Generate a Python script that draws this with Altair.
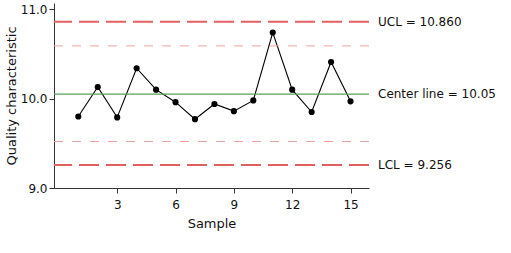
import altair as alt
import pandas as pd

samples = list(range(1, 16))
values = [9.80, 10.13, 9.79, 10.34, 10.10, 9.96, 9.77, 9.94, 9.86, 9.98,
          10.74, 10.10, 9.85, 10.41, 9.97]

ucl = 10.860
center = 10.05
lcl = 9.256
warn_upper = 10.59
warn_lower = 9.52

label_texts = ["UCL = 10.860", "Center line = 10.05", "LCL = 9.256"]
label_values = [ucl, center, lcl]

x_ticks = [3, 6, 9, 12, 15]
y_ticks = [9.0, 10.0, 11.0]

FONT = "DejaVu Sans"

df = pd.DataFrame({"Sample": samples, "Value": values})
limits = pd.DataFrame({"Value": [ucl, lcl]})
warns = pd.DataFrame({"Value": [warn_upper, warn_lower]})
cl = pd.DataFrame({"Value": [center]})
labels = pd.DataFrame({"Value": label_values, "text": label_texts})

xscale = alt.Scale(domain=[-0.25, 15.95], nice=False, zero=False)
yscale = alt.Scale(domain=[9.0, 11.07], nice=False, zero=False)

xaxis = alt.Axis(values=x_ticks, title="Sample", grid=False, labelFontSize=12,
                 titleFontSize=13, titleFontWeight="normal", labelColor="#111",
                 titleColor="#111", domainColor="#333", tickColor="#333",
                 labelFont=FONT, titleFont=FONT,
                 tickSize=5, labelPadding=6, titlePadding=7, labelFlush=False)
yaxis = alt.Axis(values=y_ticks, format=".1f", title="Quality characteristic",
                 grid=False, labelFontSize=12, titleFontSize=13,
                 titleFontWeight="normal", labelColor="#111", titleColor="#111",
                 labelFont=FONT, titleFont=FONT,
                 domainColor="#333", tickColor="#333", tickSize=5,
                 labelPadding=2, titlePadding=2, labelFlush=False)

Y = alt.Y("Value:Q", scale=yscale, axis=yaxis)
X = alt.X("Sample:Q", scale=xscale, axis=xaxis)

lim = alt.Chart(limits).mark_rule(color="#e06060", strokeWidth=2,
                                  strokeDash=[20, 7]).encode(y=Y)
wrn = alt.Chart(warns).mark_rule(color="#f0a0a0", strokeWidth=1,
                                 strokeDash=[9, 9]).encode(y=Y)
cen = alt.Chart(cl).mark_rule(color="#5aa05a", strokeWidth=1.3).encode(y=Y)

line = alt.Chart(df).mark_line(color="black", strokeWidth=1.1).encode(x=X, y=Y)
pts = alt.Chart(df).mark_circle(color="black", size=38, opacity=1).encode(x=X, y=Y)

txt = alt.Chart(labels).mark_text(align="left", baseline="middle", fontSize=12,
                                  font=FONT, color="#111", clip=False).encode(
    x=alt.value(324),
    y=Y,
    text="text:N",
)

chart = alt.layer(line, wrn, lim, cen, pts, txt).properties(
    width=315, height=185,
    autosize=alt.AutoSizeParams(type="none"),
    padding={"left": 54, "top": 3, "right": 142, "bottom": 65},
).configure(font=FONT).configure_view(stroke=None)

chart.save("out.html", embed_options={"renderer": "svg", "actions": False})
